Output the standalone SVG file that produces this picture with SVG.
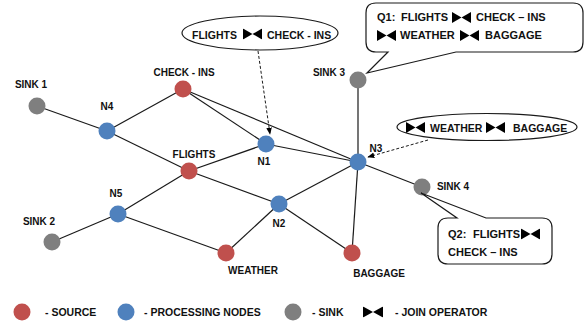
<svg xmlns="http://www.w3.org/2000/svg" width="584" height="325" viewBox="0 0 584 325">
  <style>
    text { font-family: "Liberation Sans", Arial, sans-serif; font-weight: bold; font-size: 10px; fill: #111; }
    .lbl { text-anchor: middle; }
    .big { font-size: 10.5px; }
    .call { font-size: 11px; }
    .leg { font-size: 10.5px; }
    .edge { stroke: #1a1a1a; stroke-width: 1.2; fill: none; }
    .dash { stroke: #1a1a1a; stroke-width: 1; stroke-dasharray: 3 2; fill: none; }
    .shape { fill: #fff; stroke: #1a1a1a; stroke-width: 1.2; }
    .src { fill: #C0504D; }
    .proc { fill: #4F81BD; }
    .sink { fill: #7F7F7F; }
  </style>
  <defs>
    <symbol id="bowtie" viewBox="0 0 18 10" preserveAspectRatio="none">
      <polygon points="0,0 9,5 0,10" fill="#000"/>
      <polygon points="18,0 9,5 18,10" fill="#000"/>
    </symbol>
    <marker id="arrow" viewBox="0 0 10 10" refX="9" refY="5" markerWidth="7" markerHeight="7" orient="auto">
      <path d="M0,1 L10,5 L0,9 Z" fill="#000"/>
    </marker>
  </defs>

  <!-- network links -->
  <g id="connectors">
    <line class="edge" x1="37" y1="106" x2="107" y2="131"/>
    <line class="edge" x1="107" y1="131" x2="183" y2="89"/>
    <line class="edge" x1="107" y1="131" x2="189" y2="171"/>
    <line class="edge" x1="183" y1="89" x2="266" y2="144"/>
    <line class="edge" x1="183" y1="89" x2="358" y2="162"/>
    <line class="edge" x1="189" y1="171" x2="266" y2="144"/>
    <line class="edge" x1="189" y1="171" x2="279" y2="204"/>
    <line class="edge" x1="266" y1="144" x2="358" y2="162"/>
    <line class="edge" x1="118" y1="214" x2="189" y2="171"/>
    <line class="edge" x1="118" y1="214" x2="52" y2="242"/>
    <line class="edge" x1="118" y1="214" x2="226" y2="253"/>
    <line class="edge" x1="226" y1="253" x2="279" y2="204"/>
    <line class="edge" x1="279" y1="204" x2="358" y2="162"/>
    <line class="edge" x1="279" y1="204" x2="352" y2="253"/>
    <line class="edge" x1="358" y1="162" x2="352" y2="253"/>
    <line class="edge" x1="358" y1="162" x2="358" y2="80"/>
    <line class="edge" x1="358" y1="162" x2="422" y2="187"/>
    <!-- query annotations pointing at their operators -->
    <line class="dash" x1="258" y1="51" x2="270" y2="134" marker-end="url(#arrow)"/>
    <line class="dash" x1="428" y1="140" x2="368" y2="157" marker-end="url(#arrow)"/>
  </g>

  <!-- sources -->
  <g id="checkins"><circle class="src" cx="183" cy="89" r="8.5"/><text class="lbl" x="184" y="76">CHECK - INS</text></g>
  <g id="flights"><circle class="src" cx="189" cy="171" r="8.5"/><text class="lbl" x="194" y="158">FLIGHTS</text></g>
  <g id="weather"><circle class="src" cx="226" cy="253" r="8.5"/><text class="lbl" x="253" y="274">WEATHER</text></g>
  <g id="baggage"><circle class="src" cx="352" cy="253" r="8.5"/><text class="lbl" x="379" y="277">BAGGAGE</text></g>

  <!-- processing nodes -->
  <g id="n1"><circle class="proc" cx="266" cy="144" r="8.5"/><text class="lbl" x="264" y="165">N1</text></g>
  <g id="n2"><circle class="proc" cx="279" cy="204" r="8.5"/><text class="lbl" x="279" y="227">N2</text></g>
  <g id="n3"><circle class="proc" cx="358" cy="162" r="8.5"/><text class="lbl" x="376" y="152">N3</text></g>
  <g id="n4"><circle class="proc" cx="107" cy="131" r="8.5"/><text class="lbl" x="107" y="110">N4</text></g>
  <g id="n5"><circle class="proc" cx="118" cy="214" r="8.5"/><text class="lbl" x="116" y="197">N5</text></g>

  <!-- sinks -->
  <g id="sink1"><circle class="sink" cx="37" cy="106" r="8.5"/><text class="lbl" x="31" y="88">SINK 1</text></g>
  <g id="sink2"><circle class="sink" cx="52" cy="242" r="8.5"/><text class="lbl" x="39" y="225">SINK 2</text></g>
  <g id="sink3"><circle class="sink" cx="358" cy="80" r="8.5"/><text class="lbl" x="329" y="76">SINK 3</text></g>
  <g id="sink4"><circle class="sink" cx="422" cy="187" r="8.5"/><text class="lbl" x="453" y="190">SINK 4</text></g>

  <!-- operator bubbles -->
  <g id="op-n1">
    <ellipse class="shape" cx="260" cy="33" rx="78" ry="17"/>
    <text class="big" x="192" y="39">FLIGHTS</text>
    <use href="#bowtie" x="243" y="28.5" width="19" height="11"/>
    <text class="big" x="267" y="39">CHECK - INS</text>
  </g>
  <g id="op-n3">
    <ellipse class="shape" cx="487" cy="127" rx="90" ry="13.5"/>
    <use href="#bowtie" x="406" y="122" width="19" height="11"/>
    <text class="big" x="430" y="132">WEATHER</text>
    <use href="#bowtie" x="486" y="122" width="19" height="11"/>
    <text class="big" x="513" y="132">BAGGAGE</text>
  </g>

  <!-- query callouts -->
  <g id="q1">
    <path class="shape" d="M376,3 H573 Q583,3 583,13 V42 Q583,52 573,52 H456 L367,73 L388,52 H376 Q366,52 366,42 V13 Q366,3 376,3 Z"/>
    <text class="call" x="377" y="21">Q1:</text>
    <text class="call" x="401" y="21">FLIGHTS</text>
    <use href="#bowtie" x="452" y="12" width="19" height="11"/>
    <text class="call" x="476" y="21">CHECK – INS</text>
    <use href="#bowtie" x="377" y="30" width="19" height="11"/>
    <text class="call" x="400" y="39">WEATHER</text>
    <use href="#bowtie" x="460" y="30" width="19" height="11"/>
    <text class="call" x="485" y="39">BAGGAGE</text>
  </g>
  <g id="q2">
    <path class="shape" d="M448,218 H457 L421,193 L486,218 H542 Q552,218 552,228 V254 Q552,264 542,264 H448 Q438,264 438,254 V228 Q438,218 448,218 Z"/>
    <text class="call" x="448" y="238">Q2:</text>
    <text class="call" x="473" y="238">FLIGHTS</text>
    <use href="#bowtie" x="521" y="228.5" width="19" height="11"/>
    <text class="call" x="448" y="256">CHECK – INS</text>
  </g>

  <!-- legend -->
  <g id="legend">
    <circle class="src" cx="22" cy="312" r="8.5"/>
    <text class="leg" x="45" y="316">- SOURCE</text>
    <circle class="proc" cx="126" cy="312" r="8.5"/>
    <text class="leg" x="144" y="316">- PROCESSING NODES</text>
    <circle class="sink" cx="293" cy="312" r="8.5"/>
    <text class="leg" x="312" y="316">- SINK</text>
    <use href="#bowtie" x="363" y="306.5" width="20" height="11"/>
    <text class="leg" x="395" y="316">- JOIN OPERATOR</text>
  </g>
</svg>
